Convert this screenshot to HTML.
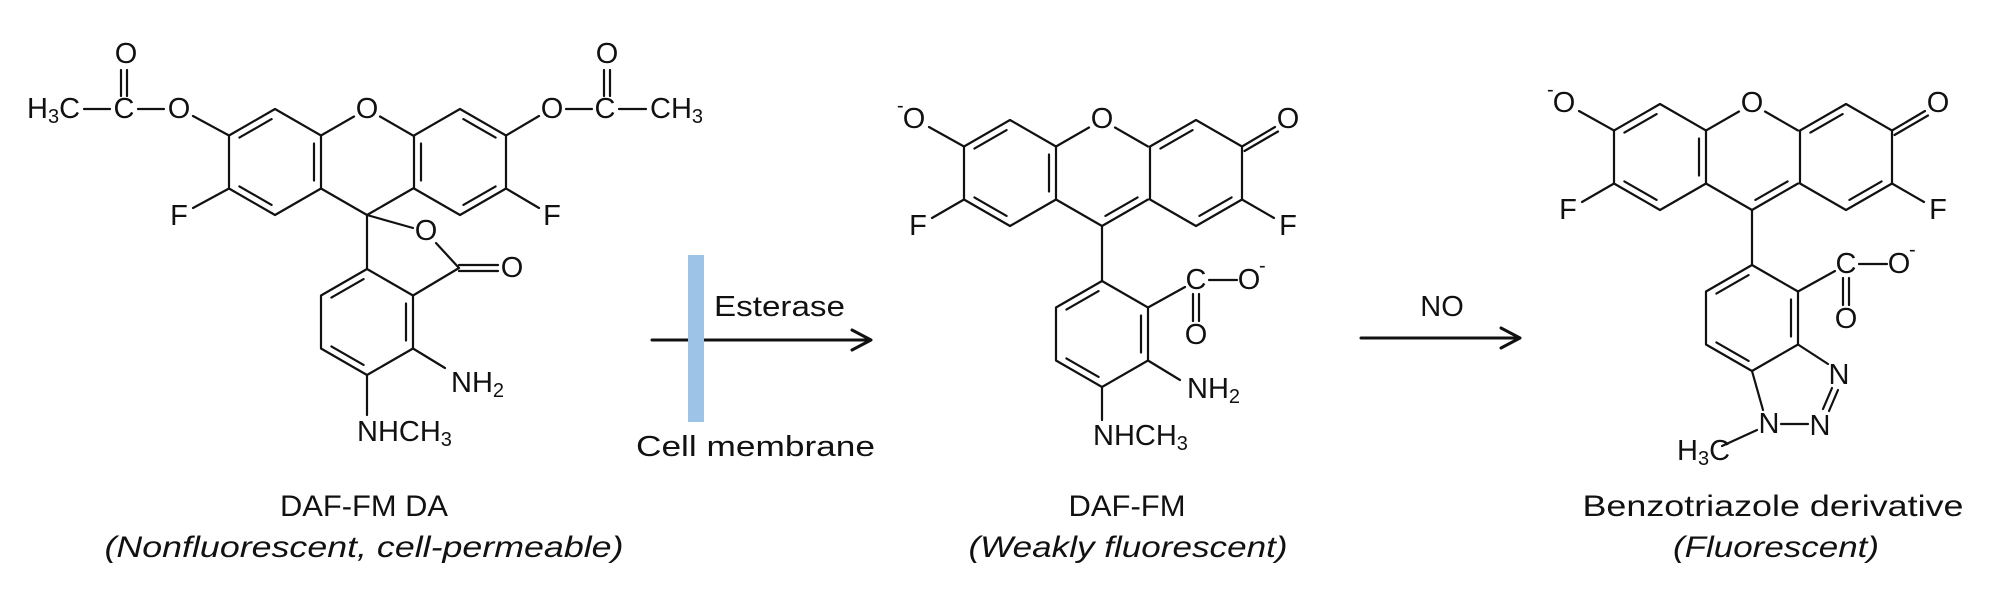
<!DOCTYPE html>
<html><head><meta charset="utf-8"><style>
html,body{margin:0;padding:0;background:#fff;}
svg{display:block;}
text{font-family:"Liberation Sans",sans-serif;fill:#111;}
.a{font-size:29px;text-anchor:middle;dominant-baseline:central;}
.s{font-size:29px;dominant-baseline:central;}
.l{font-size:30px;text-anchor:middle;}
.i{font-size:30px;text-anchor:middle;font-style:italic;}
</style></head><body>
<svg width="2000" height="610" viewBox="0 0 2000 610" xmlns="http://www.w3.org/2000/svg">
<defs></defs>
<g stroke="#111" stroke-width="2.2" fill="none" stroke-linecap="round" stroke-linejoin="round">
<!-- LEFT MOLECULE -->
<g transform="translate(275,162)">
 <path d="M0,-53 L46,-26.5 L46,26.5 L0,53 L-46,26.5 L-46,-26.5 Z"/>
 <line x1="-35.6" y1="-24.4" x2="-3.4" y2="-42.9"/>
 <line x1="39" y1="-18.5" x2="39" y2="18.5"/>
 <line x1="-3.4" y1="42.9" x2="-35.6" y2="24.4"/>
</g>
<g transform="translate(367,162)">
 <line x1="-46" y1="-26.5" x2="-13" y2="-45.5"/>
 <line x1="13" y1="-45.5" x2="46" y2="-26.5"/>
 <line x1="46" y1="26.5" x2="0" y2="53"/>
 <line x1="0" y1="53" x2="-46" y2="26.5"/>
</g>
<g transform="translate(460,162)">
 <path d="M0,-53 L46,-26.5 L46,26.5 L0,53 L-46,26.5 L-46,-26.5 Z"/>
 <line x1="3.4" y1="-42.9" x2="35.6" y2="-24.4"/>
 <line x1="-39" y1="-18.5" x2="-39" y2="18.5"/>
 <line x1="35.6" y1="24.4" x2="3.4" y2="42.9"/>
</g>
<g transform="translate(367,322)">
 <path d="M0,-53 L46,-26.5 L46,26.5 L0,53 L-46,26.5 L-46,-26.5 Z"/>
 <line x1="-35.6" y1="-24.4" x2="-3.4" y2="-42.9"/>
 <line x1="39" y1="-18.5" x2="39" y2="18.5"/>
 <line x1="-3.4" y1="42.9" x2="-35.6" y2="24.4"/>
</g>
<line x1="229" y1="135.5" x2="193" y2="116"/>
<line x1="229" y1="188.5" x2="193" y2="208"/>
<line x1="506" y1="135.5" x2="539" y2="116"/>
<line x1="506" y1="188.5" x2="539" y2="208"/>
<line x1="164" y1="109" x2="138" y2="109"/>
<line x1="110" y1="109" x2="84" y2="109"/>
<line x1="121" y1="70" x2="121" y2="96"/><line x1="127" y1="70" x2="127" y2="96"/>
<line x1="566" y1="109" x2="592" y2="109"/>
<line x1="619" y1="109" x2="646" y2="109"/>
<line x1="604" y1="70" x2="604" y2="96"/><line x1="610" y1="70" x2="610" y2="96"/>
<line x1="367" y1="215" x2="367" y2="269"/>
<line x1="367" y1="215" x2="413" y2="228"/>
<line x1="436" y1="243" x2="459" y2="268"/>
<line x1="459" y1="268" x2="413" y2="295.5"/>
<line x1="459" y1="265" x2="498" y2="265"/><line x1="459" y1="271" x2="498" y2="271"/>
<line x1="413" y1="348.5" x2="445" y2="368"/>
<line x1="367" y1="375" x2="367" y2="415"/>

<!-- MIDDLE MOLECULE -->
<g id="mid">
<g transform="translate(1010,173)">
 <path d="M0,-53 L46,-26.5 L46,26.5 L0,53 L-46,26.5 L-46,-26.5 Z"/>
 <line x1="-35.6" y1="-24.4" x2="-3.4" y2="-42.9"/>
 <line x1="39" y1="-18.5" x2="39" y2="18.5"/>
 <line x1="-3.4" y1="42.9" x2="-35.6" y2="24.4"/>
</g>
<g transform="translate(1102,173)">
 <line x1="-46" y1="-26.5" x2="-13" y2="-45.5"/>
 <line x1="13" y1="-45.5" x2="46" y2="-26.5"/>
 <line x1="46" y1="26.5" x2="0" y2="53"/>
 <line x1="0" y1="53" x2="-46" y2="26.5"/>
 <line x1="35.6" y1="24.4" x2="3.4" y2="42.9"/>
</g>
<g transform="translate(1196,173)">
 <path d="M0,-53 L46,-26.5 L46,26.5 L0,53 L-46,26.5 L-46,-26.5 Z"/>
 <line x1="-35.6" y1="-24.4" x2="-3.4" y2="-42.9"/>
 <line x1="35.6" y1="24.4" x2="3.4" y2="42.9"/>
</g>
<g transform="translate(1102,334)">
 <path d="M0,-53 L46,-26.5 L46,26.5 L0,53 L-46,26.5 L-46,-26.5 Z"/>
 <line x1="-35.6" y1="-24.4" x2="-3.4" y2="-42.9"/>
 <line x1="39" y1="-18.5" x2="39" y2="18.5"/>
 <line x1="-3.4" y1="42.9" x2="-35.6" y2="24.4"/>
</g>
<line x1="1102" y1="226" x2="1102" y2="281"/>
<line x1="1148" y1="307.5" x2="1185" y2="287"/>
<line x1="1209" y1="280" x2="1237" y2="280"/>
<line x1="1193" y1="294" x2="1193" y2="321"/><line x1="1199" y1="294" x2="1199" y2="321"/>
<line x1="964" y1="146.5" x2="929" y2="127"/>
<line x1="964" y1="199.5" x2="932" y2="218"/>
<line x1="1242" y1="146.5" x2="1275" y2="127"/>
<line x1="1244.5" y1="151" x2="1278" y2="131.5"/>
<line x1="1242" y1="199.5" x2="1274" y2="218"/>
</g>
<line x1="1148" y1="360.5" x2="1180" y2="380"/>
<line x1="1102" y1="387" x2="1102" y2="420"/>

<!-- RIGHT MOLECULE (same core shifted) -->
<g transform="translate(650,-16)">
<g transform="translate(1010,173)">
 <path d="M0,-53 L46,-26.5 L46,26.5 L0,53 L-46,26.5 L-46,-26.5 Z"/>
 <line x1="-35.6" y1="-24.4" x2="-3.4" y2="-42.9"/>
 <line x1="39" y1="-18.5" x2="39" y2="18.5"/>
 <line x1="-3.4" y1="42.9" x2="-35.6" y2="24.4"/>
</g>
<g transform="translate(1102,173)">
 <line x1="-46" y1="-26.5" x2="-13" y2="-45.5"/>
 <line x1="13" y1="-45.5" x2="46" y2="-26.5"/>
 <line x1="46" y1="26.5" x2="0" y2="53"/>
 <line x1="0" y1="53" x2="-46" y2="26.5"/>
 <line x1="35.6" y1="24.4" x2="3.4" y2="42.9"/>
</g>
<g transform="translate(1196,173)">
 <path d="M0,-53 L46,-26.5 L46,26.5 L0,53 L-46,26.5 L-46,-26.5 Z"/>
 <line x1="-35.6" y1="-24.4" x2="-3.4" y2="-42.9"/>
 <line x1="35.6" y1="24.4" x2="3.4" y2="42.9"/>
</g>
<g transform="translate(1102,334)">
 <path d="M0,-53 L46,-26.5 L46,26.5 L0,53 L-46,26.5 L-46,-26.5 Z"/>
 <line x1="-35.6" y1="-24.4" x2="-3.4" y2="-42.9"/>
 <line x1="39" y1="-18.5" x2="39" y2="18.5"/>
 <line x1="-3.4" y1="42.9" x2="-35.6" y2="24.4"/>
</g>
<line x1="1102" y1="226" x2="1102" y2="281"/>
<line x1="1148" y1="307.5" x2="1185" y2="287"/>
<line x1="1209" y1="280" x2="1237" y2="280"/>
<line x1="1193" y1="294" x2="1193" y2="321"/><line x1="1199" y1="294" x2="1199" y2="321"/>
<line x1="964" y1="146.5" x2="929" y2="127"/>
<line x1="964" y1="199.5" x2="932" y2="218"/>
<line x1="1242" y1="146.5" x2="1275" y2="127"/>
<line x1="1244.5" y1="151" x2="1278" y2="131.5"/>
<line x1="1242" y1="199.5" x2="1274" y2="218"/>
</g>
<!-- triazole -->
<line x1="1798" y1="344.5" x2="1828" y2="364"/>
<line x1="1752" y1="371" x2="1763" y2="410"/>
<line x1="1781" y1="424" x2="1808" y2="424"/>
<line x1="1838" y1="390" x2="1829" y2="411"/><line x1="1832" y1="388" x2="1823" y2="409"/>
<line x1="1722" y1="446" x2="1757" y2="430"/>

<!-- arrows -->
<line x1="652" y1="340" x2="870" y2="340" stroke-width="3"/>
<polyline points="852,330 871,340 852,350" stroke-width="3"/>
<line x1="1361" y1="338" x2="1519" y2="338" stroke-width="3"/>
<polyline points="1501,328 1520,338 1501,348" stroke-width="3"/>
</g>
<rect x="688" y="255" width="16" height="167" fill="#9dc3e6"/>

<!-- TEXT left -->
<text class="a" x="126" y="54">O</text>
<text class="a" x="124" y="109">C</text>
<text class="s" x="27" y="109">H<tspan font-size="20" dy="8">3</tspan><tspan dy="-8">C</tspan></text>
<text class="a" x="179" y="109">O</text>
<text class="a" x="367" y="109">O</text>
<text class="a" x="552" y="109">O</text>
<text class="a" x="605" y="109">C</text>
<text class="a" x="607" y="54">O</text>
<text class="s" x="650" y="109">CH<tspan font-size="20" dy="8">3</tspan></text>
<text class="a" x="179" y="216">F</text>
<text class="a" x="552" y="216">F</text>
<text class="a" x="426" y="231">O</text>
<text class="a" x="512" y="268">O</text>
<text class="s" x="451" y="383">NH<tspan font-size="20" dy="8">2</tspan></text>
<text class="s" x="357" y="432">NHCH<tspan font-size="20" dy="8">3</tspan></text>
<text class="l" x="364" y="516" textLength="168" lengthAdjust="spacingAndGlyphs">DAF-FM DA</text>
<text class="i" x="364" y="557" textLength="519" lengthAdjust="spacingAndGlyphs">(Nonfluorescent, cell-permeable)</text>

<!-- arrow labels -->
<text class="s" x="714" y="307" textLength="131" lengthAdjust="spacingAndGlyphs">Esterase</text>
<text class="s" x="636" y="447" textLength="239" lengthAdjust="spacingAndGlyphs">Cell membrane</text>
<text class="a" x="1442" y="307">NO</text>

<!-- TEXT middle -->
<text class="a" x="914" y="119">O</text>
<text x="897" y="112" font-size="20">-</text>
<text class="a" x="1102" y="119">O</text>
<text class="a" x="1288" y="119">O</text>
<text class="a" x="918" y="226">F</text>
<text class="a" x="1288" y="226">F</text>
<text class="a" x="1196" y="280">C</text>
<text class="a" x="1249" y="280">O</text>
<text x="1259" y="272" font-size="20">-</text>
<text class="a" x="1196" y="335">O</text>
<text class="s" x="1187" y="389">NH<tspan font-size="20" dy="8">2</tspan></text>
<text class="s" x="1093" y="436">NHCH<tspan font-size="20" dy="8">3</tspan></text>
<text class="l" x="1127" y="516" textLength="117" lengthAdjust="spacingAndGlyphs">DAF-FM</text>
<text class="i" x="1128" y="557" textLength="319" lengthAdjust="spacingAndGlyphs">(Weakly fluorescent)</text>

<!-- TEXT right -->
<text class="a" x="1564" y="103">O</text>
<text x="1547" y="96" font-size="20">-</text>
<text class="a" x="1752" y="103">O</text>
<text class="a" x="1938" y="103">O</text>
<text class="a" x="1568" y="210">F</text>
<text class="a" x="1938" y="210">F</text>
<text class="a" x="1846" y="264">C</text>
<text class="a" x="1899" y="264">O</text>
<text x="1909" y="256" font-size="20">-</text>
<text class="a" x="1846" y="319">O</text>
<text class="a" x="1839" y="375">N</text>
<text class="a" x="1820" y="426">N</text>
<text class="a" x="1769" y="424">N</text>
<text class="s" x="1677" y="451">H<tspan font-size="20" dy="8">3</tspan><tspan dy="-8">C</tspan></text>
<text class="l" x="1773" y="516" textLength="381" lengthAdjust="spacingAndGlyphs">Benzotriazole derivative</text>
<text class="i" x="1776" y="557" textLength="206" lengthAdjust="spacingAndGlyphs">(Fluorescent)</text>
</svg>
</body></html>
